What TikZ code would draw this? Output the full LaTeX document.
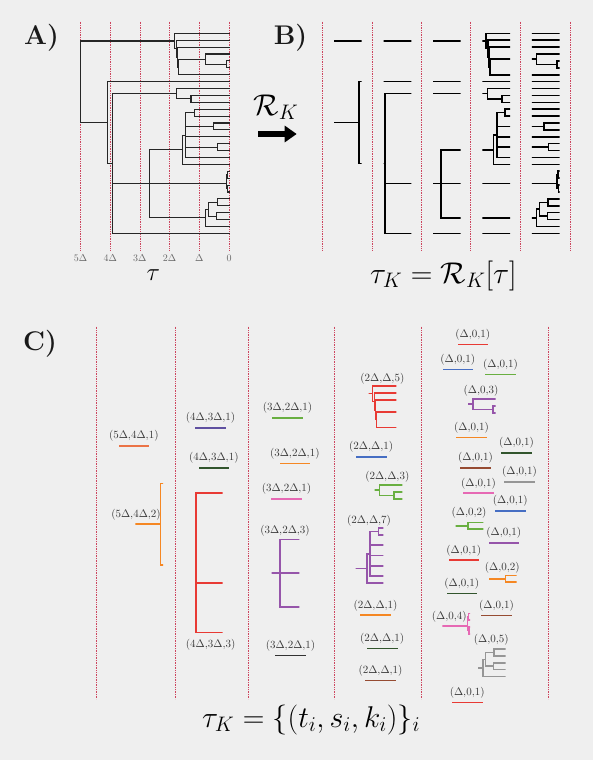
\RequirePackage{fix-cm}
\documentclass[tikz,border=0pt]{standalone}
\usepackage{amsmath}
\usetikzlibrary{arrows.meta}

\definecolor{bgc}{RGB}{239,239,239}
\definecolor{cutc}{RGB}{205,70,95}
\definecolor{labc}{RGB}{55,55,55}
\definecolor{sred}{RGB}{232,58,52}
\definecolor{sblue}{RGB}{70,110,195}
\definecolor{sgreen}{RGB}{105,175,65}
\definecolor{spurple}{RGB}{150,85,170}
\definecolor{sorange}{RGB}{245,135,35}
\definecolor{scoral}{RGB}{235,115,70}
\definecolor{sdkgreen}{RGB}{50,85,45}
\definecolor{sbrown}{RGB}{150,75,50}
\definecolor{spink}{RGB}{230,105,180}
\definecolor{sgray}{RGB}{150,150,150}
\definecolor{sslate}{RGB}{95,80,160}
\definecolor{sdark}{RGB}{50,50,50}

\tikzset{
  cutline/.style={draw=cutc, densely dotted, line width=0.7pt},
  treeA/.style={line width=1.1pt, line cap=rect, color=black!85},
  treeB/.style={line width=1.6pt, line cap=rect, color=black},
  treeC/.style={line width=1.6pt, line cap=rect},
  lab/.style={text=labc, font=\fontsize{11}{13}\selectfont},
  axlab/.style={text=black!60, font=\fontsize{10}{12}\selectfont},
  panel/.style={font=\fontsize{27}{32}\selectfont\bfseries, text=black!90},
  bigmath/.style={font=\fontsize{30}{36}\selectfont, inner sep=0pt},
}

% the whole tree, in (time, row) units
\newcommand{\fulltree}{%
  % bars: time / first row / last row
  \foreach \vt/\va/\vb in {5/1.11/12.94, 1.83/0/2.22, 1.76/1/3.44, 1.72/2/4.875,
      1.69/3.75/6, 0.79/3/4.5, 0.09/4/5, 4.09/7/18.875, 3.92/8.75/29,
      1.78/8/9.5, 1.28/9/10, 2.67/16.9/26.75, 1.57/14.75/19, 1.46/11.5/18,
      1.17/11/12, 0.53/13/14, 0.38/16/17, 0.09/20.5/22.5, 0.05/20/21,
      0.04/22/23, 0.79/25.5/28, 0.70/24.5/26.5, 0.40/24/25, 0.42/26/27}
    {\draw (\vt,\va) -- (\vt,\vb);}
  % branches: parent time / child time / row
  \foreach \hp/\hc/\hy in {5/1.83/1.11, 5/4.09/12.94,
      1.83/0/0, 1.83/1.76/2.22, 1.76/0/1, 1.76/1.72/3.44, 1.72/0/2,
      1.72/1.69/4.875, 1.69/0.79/3.75, 1.69/0/6, 0.79/0/3, 0.79/0.09/4.5,
      0.09/0/4, 0.09/0/5, 4.09/0/7, 4.09/3.92/18.875,
      3.92/1.78/8.75, 3.92/2.67/21.8, 3.92/0/29, 1.78/0/8, 1.78/1.28/9.5,
      1.28/0/9, 1.28/0/10, 2.67/1.57/16.9, 2.67/0.09/21.8, 2.67/0.79/26.75,
      1.57/1.46/14.75, 1.57/0/19, 1.46/1.17/11.5, 1.46/0.53/13.5, 1.46/0/15,
      1.46/0.38/16.5, 1.46/0/18, 1.17/0/11, 1.17/0/12, 0.53/0/13, 0.53/0/14,
      0.38/0/16, 0.38/0/17, 0.09/0.05/20.5, 0.09/0.04/22.5, 0.05/0/20,
      0.05/0/21, 0.04/0/22, 0.04/0/23, 0.79/0.70/25.5, 0.79/0/28,
      0.70/0.40/24.5, 0.70/0.42/26.5, 0.40/0/24, 0.40/0/25, 0.42/0/26, 0.42/0/27}
    {\draw (\hp,\hy) -- (\hc,\hy);}
}

% one cut piece: colour, left time, first row, last row, x, y
\newcommand{\piece}[6]{%
  \begin{scope}[shift={({#5+29*#2},{#6-6.897*#3})}, x={(-29pt,0pt)}, y={(0pt,-6.897pt)}, treeC, color=#1]
    \clip ({#2-0.045},{#3-0.5}) rectangle ({#2-1},{#4+0.5});
    \fulltree
  \end{scope}}

% one single branch: name, colour, x, y, label
\newcommand{\seg}[5]{%
  \draw[treeC, #2] (#3,#4) -- ++(29,0) node[lab, midway, above] (#1) {$#5$};}

\begin{document}
\begin{tikzpicture}[x=1pt, y=-1pt]
  \fill[bgc] (0,0) rectangle (593,760);
  \useasboundingbox (0,0) rectangle (593,760);

  % panel A
  \node[panel] (pA) at (41.5,37.5) {A)};
  \foreach \k/\lab in {0/0, 1/\Delta, 2/2\Delta, 3/3\Delta, 4/4\Delta, 5/5\Delta} {
    \draw[cutline] ({229-29.7*\k},21.7) -- ({229-29.7*\k},250);
    \node[axlab] (ax\k) at ({229-29.7*\k},258.3) {$\lab$};
  }
  \begin{scope}[shift={(229,33.33)}, x={(-29.7pt,0pt)}, y={(0pt,-6.897pt)}, treeA]
    \fulltree
  \end{scope}
  \node[font=\fontsize{25}{30}\selectfont, inner sep=0pt, anchor=base] (tauA) at (153.3,280) {$\tau$};

  % arrow
  \node[bigmath, anchor=base west] (RK) at (253.3,115) {$\mathcal{R}_K$};
  \coordinate (arrS) at (258.3,134);
  \coordinate (arrE) at (296.7,134);
  \draw[line width=6.5pt, -{Triangle[length=12pt,width=16pt]}] (arrS) -- (arrE);

  % panel B
  \node[panel] (pB) at (290.5,38) {B)};
  \foreach \xd in {322.3,372,421.3,470.7,520,570}
    \draw[cutline] (\xd,21.7) -- (\xd,250);
  \foreach \c/\xl in {1/332.7, 2/382.4, 3/431.7, 4/481.1, 5/530.6} {
    \begin{scope}[shift={({\xl+29*(6-\c)},33.33)}, x={(-29pt,0pt)}, y={(0pt,-6.897pt)}, treeB]
      \clip ({6-\c-0.045},-1) rectangle ({5-\c},30);
      \fulltree
    \end{scope}
  }
  \node[bigmath, anchor=base west] (tauK) at (370,283.3) {$\tau_K = \mathcal{R}_K[\tau]$};

  % panel C
  \node[panel] (pC) at (40,344) {C)};
  \foreach \xd in {96.7,175.7,248.7,334.3,421.7,548.3}
    \draw[cutline] (\xd,326.7) -- (\xd,699);

  % 5Delta to 4Delta
  \seg{c1a}{scoral}{119.3}{445.7}{(5\Delta{,}4\Delta{,}1)}
  \piece{sorange}{5}{7}{18.875}{134}{483.3}
  \node[lab] (c1b) at (136,514.3) {$(5\Delta{,}4\Delta{,}2)$};

  % 4Delta to 3Delta
  \seg{c2a}{sslate}{196}{427.7}{(4\Delta{,}3\Delta{,}1)}
  \seg{c2b}{sdkgreen}{199.3}{467.7}{(4\Delta{,}3\Delta{,}1)}
  \piece{sred}{4}{8}{29}{193.7}{487.8}
  \node[lab] (c2c) at (210.7,645) {$(4\Delta{,}3\Delta{,}3)$};

  % 3Delta to 2Delta
  \seg{c3a}{sgreen}{273}{417.7}{(3\Delta{,}2\Delta{,}1)}
  \seg{c3b}{sorange}{280.3}{463.3}{(3\Delta{,}2\Delta{,}1)}
  \seg{c3c}{spink}{272}{498.7}{(3\Delta{,}2\Delta{,}1)}
  \piece{spurple}{3}{16.9}{26.75}{270.3}{539.3}
  \node[lab] (c3d) at (285,531) {$(3\Delta{,}2\Delta{,}3)$};
  \seg{c3e}{sdark}{276}{655.3}{(3\Delta{,}2\Delta{,}1)}

  % 2Delta to Delta
  \piece{sred}{2}{0}{6}{367.4}{386}
  \node[lab] (c4a) at (382.3,378.3) {$(2\Delta{,}\Delta{,}5)$};
  \seg{c4b}{sblue}{356.7}{456.7}{(2\Delta{,}\Delta{,}1)}
  \piece{sgreen}{2}{8}{10}{373.3}{485}
  \node[lab] (c4c) at (387.3,476.7) {$(2\Delta{,}\Delta{,}3)$};
  \piece{spurple}{2}{11}{19}{354.3}{528}
  \node[lab] (c4d) at (369,521) {$(2\Delta{,}\Delta{,}7)$};
  \seg{c4e}{sorange}{361}{615}{(2\Delta{,}\Delta{,}1)}
  \seg{c4f}{sdkgreen}{367.7}{648.3}{(2\Delta{,}\Delta{,}1)}
  \seg{c4g}{sbrown}{366}{680.3}{(2\Delta{,}\Delta{,}1)}

  % Delta to 0
  \seg{c5a}{sred}{458.3}{344.3}{(\Delta{,}0{,}1)}
  \seg{c5b}{sblue}{443.3}{369.3}{(\Delta{,}0{,}1)}
  \seg{c5c}{sgreen}{486}{374.3}{(\Delta{,}0{,}1)}
  \piece{spurple}{1}{3}{5}{466.7}{399}
  \node[lab] (c5d) at (481,390.7) {$(\Delta{,}0{,}3)$};
  \seg{c5e}{sorange}{457}{437.3}{(\Delta{,}0{,}1)}
  \seg{c5f}{sdkgreen}{502}{452.7}{(\Delta{,}0{,}1)}
  \seg{c5g}{sbrown}{461}{467.7}{(\Delta{,}0{,}1)}
  \seg{c5h}{sgray}{505}{481.7}{(\Delta{,}0{,}1)}
  \seg{c5i}{spink}{464}{493}{(\Delta{,}0{,}1)}
  \seg{c5j}{sblue}{495.7}{510.7}{(\Delta{,}0{,}1)}
  \piece{sgreen}{1}{13}{14}{454.3}{522.3}
  \node[lab] (c5k) at (469,512.7) {$(\Delta{,}0{,}2)$};
  \seg{c5l}{spurple}{489.3}{542.7}{(\Delta{,}0{,}1)}
  \seg{c5m}{sred}{449.3}{560}{(\Delta{,}0{,}1)}
  \piece{sorange}{1}{16}{17}{487.7}{575.3}
  \node[lab] (c5n) at (502.3,567.3) {$(\Delta{,}0{,}2)$};
  \seg{c5o}{sdkgreen}{447.3}{593.3}{(\Delta{,}0{,}1)}
  \seg{c5p}{sbrown}{482}{615.3}{(\Delta{,}0{,}1)}
  \piece{spink}{1}{20}{23}{441}{613.3}
  \node[lab] (c5q) at (449.3,616.7) {$(\Delta{,}0{,}4)$};
  \piece{sgray}{1}{24}{28}{476.7}{649}
  \node[lab] (c5r) at (491.3,640) {$(\Delta{,}0{,}5)$};
  \seg{c5s}{sred}{452.7}{702.3}{(\Delta{,}0{,}1)}

  \node[bigmath, anchor=base west] (tauSet) at (202,727) {$\tau_K = \{(t_i,s_i,k_i)\}_i$};
\end{tikzpicture}
\end{document}
